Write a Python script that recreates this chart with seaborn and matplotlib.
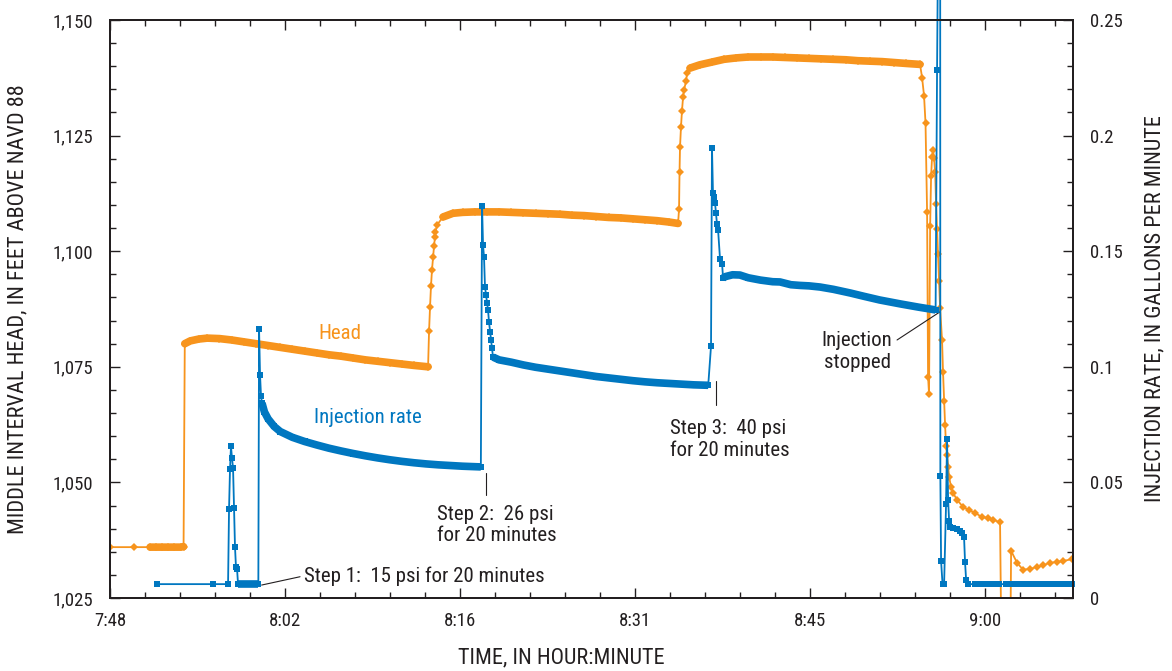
import numpy as np
import pandas as pd
import matplotlib
matplotlib.use("Agg")
import matplotlib.pyplot as plt
from matplotlib.ticker import FixedLocator, FuncFormatter, MultipleLocator
from matplotlib import font_manager
import seaborn as sns

# ---------------- data (time = minutes after midnight) ----------------
head_time = [
    468.0, 470.0, 471.3, 471.8, 472.3, 472.8, 473.3, 473.8, 474.05,
    474.15, 474.6, 475.3, 476.0, 477.0, 478.0, 479.0, 480.0, 481.0, 482.0, 483.0,
    484.0, 485.0, 486.0, 487.0, 488.0, 489.0, 490.0, 491.0, 492.0, 493.0, 494.16,
    494.24, 494.32, 494.40, 494.48, 494.57, 494.65, 494.73, 494.77, 494.90,
    495.39, 496.2, 497.0, 498.0, 499.0, 500.0, 501.0, 502.0, 503.0, 504.0, 505.0,
    506.0, 507.0, 508.0, 509.0, 510.0, 511.0, 512.0, 513.0, 514.0, 514.72,
    514.80, 514.84, 514.88, 514.96, 515.04, 515.13, 515.21, 515.38, 515.46, 515.71,
    516.5, 517.5, 518.5, 519.5, 520.5, 521.5, 522.5, 523.5, 524.5, 525.5, 526.5,
    527.5, 528.5, 529.5, 530.5, 531.5, 532.5, 533.5, 534.62,
    534.79, 534.95, 535.07, 535.20, 535.28, 535.36, 535.45, 535.53, 535.61, 535.69,
    535.77, 535.86, 535.94, 536.02, 536.10, 536.19, 536.27, 536.43, 536.51, 536.60,
    536.68, 536.76, 536.84, 536.93, 537.01, 537.17, 537.34, 537.67, 538.16, 538.65,
    539.15, 539.72, 540.22, 540.63, 541.20,
    541.33, 542.03,
    542.11, 542.60, 543.10, 543.67, 544.25, 544.74, 545.31, 545.89, 546.38, 547.12,
]
head_ft = [
    1036.0, 1036.0, 1036.0, 1036.0, 1036.0, 1036.0, 1036.0, 1036.0, 1036.1,
    1080.0, 1080.6, 1081.0, 1081.2, 1081.1, 1080.8, 1080.4, 1080.0, 1079.6, 1079.2, 1078.8,
    1078.4, 1078.0, 1077.6, 1077.3, 1076.9, 1076.5, 1076.2, 1075.9, 1075.6, 1075.3, 1075.0,
    1082.7, 1087.9, 1092.5, 1095.9, 1098.7, 1101.1, 1103.1, 1104.2, 1105.7,
    1107.4, 1108.2, 1108.4, 1108.5, 1108.5, 1108.5, 1108.4, 1108.3, 1108.2, 1108.1, 1108.0,
    1107.8, 1107.7, 1107.5, 1107.3, 1107.2, 1107.0, 1106.8, 1106.6, 1106.3, 1106.0,
    1109.1, 1117.1, 1122.5, 1126.9, 1130.3, 1133.3, 1134.9, 1136.8, 1138.5, 1139.6,
    1140.3, 1140.9, 1141.5, 1141.8, 1142.0, 1142.0, 1142.0, 1141.9, 1141.8, 1141.7, 1141.6,
    1141.5, 1141.4, 1141.2, 1141.1, 1141.0, 1140.8, 1140.6, 1140.4,
    1137.5, 1133.6, 1127.7, 1108.5, 1072.8, 1069.1, 1105.4, 1116.3, 1120.4, 1121.9,
    1120.2, 1117.1, 1110.2, 1104.8, 1099.4, 1093.6, 1087.7, 1080.8, 1073.9, 1067.6,
    1062.4, 1057.9, 1055.9, 1053.3, 1051.2, 1049.0, 1047.7, 1046.2, 1044.7, 1044.0,
    1043.4, 1042.5, 1042.3, 1041.9, 1041.4,
    1010.0, 1010.0,
    1035.2, 1032.6, 1031.1, 1031.3, 1031.7, 1032.1, 1032.6, 1032.8, 1033.0, 1033.4,
]

rate_time = [
    471.87, 476.47, 477.71, 477.79, 477.87, 477.95, 478.03, 478.12, 478.20, 478.28,
    478.36, 478.45, 478.53, 478.8, 479.1, 479.4, 479.7, 480.0, 480.2,
    480.26, 480.34, 480.42, 480.50, 480.7, 481.0, 481.5, 482.0, 483.0, 484.0, 485.0,
    486.0, 487.0, 488.0, 489.0, 490.0, 491.0, 492.0, 493.0, 494.0, 495.0, 496.0,
    497.0, 498.0, 498.5,
    498.60, 498.68, 498.76, 498.84, 498.93, 499.01, 499.09, 499.17, 499.26, 499.34,
    499.42, 499.50,
    500.0, 501.0, 502.0, 503.0, 504.0, 505.0, 506.0, 507.0, 508.0, 509.0, 510.0,
    511.0, 512.0, 513.0, 514.0, 515.0, 516.0, 517.2,
    517.43, 517.51, 517.59, 517.68, 517.76, 517.84, 517.92, 518.01, 518.17, 518.34, 518.42,
    518.6, 519.2, 519.8, 520.5, 521.5, 522.5, 523.1, 524.0, 524.75, 525.5,
    526.4, 527.5, 528.9, 530.0, 531.3, 533.0, 534.5, 535.9,
    536.02, 536.27, 536.29, 536.35, 536.47, 536.60, 536.76, 536.84, 536.93, 537.01,
    537.09, 537.34, 537.67, 537.91, 538.08, 538.24, 538.32, 538.41, 538.57,
    539.15, 539.65, 540.15, 540.65, 541.15, 541.65, 542.15, 542.65, 543.15, 543.65,
    544.15, 544.65, 545.15, 545.65, 546.15, 546.65, 547.15,
]
rate_gpm = [
    0.006, 0.006, 0.006, 0.0385, 0.0558, 0.0657, 0.0606, 0.0562, 0.0389, 0.0221,
    0.0134, 0.0125, 0.006, 0.006, 0.006, 0.006, 0.006, 0.006, 0.006,
    0.1163, 0.0965, 0.0874, 0.0843, 0.0805, 0.0775, 0.0742, 0.0720, 0.0695, 0.0677, 0.0662,
    0.0648, 0.0636, 0.0625, 0.0615, 0.0606, 0.0598, 0.0591, 0.0585, 0.0580, 0.0576, 0.0573,
    0.0570, 0.0568, 0.0567,
    0.1695, 0.1527, 0.1475, 0.1345, 0.1311, 0.1276, 0.1246, 0.1194, 0.1151, 0.1116,
    0.1081, 0.1042,
    0.1030, 0.1020, 0.1008, 0.0998, 0.0990, 0.0982, 0.0974, 0.0966, 0.0958, 0.0952, 0.0946,
    0.0940, 0.0935, 0.0931, 0.0928, 0.0925, 0.0922, 0.0920,
    0.1090, 0.1946, 0.1752, 0.1734, 0.1708, 0.1665, 0.1618, 0.1592, 0.1466, 0.1445, 0.1384,
    0.1390, 0.1398, 0.1397, 0.1385, 0.1375, 0.1368, 0.1367, 0.1355, 0.1352, 0.1350,
    0.1345, 0.1335, 0.1319, 0.1305, 0.1289, 0.1272, 0.1258, 0.1246,
    0.2284, 0.40, 0.0528, 0.0160, 0.006, 0.006, 0.0407, 0.0688, 0.0424, 0.0333,
    0.0307, 0.0303, 0.0298, 0.0290, 0.0281, 0.0264, 0.0156, 0.0078, 0.006,
    0.006, 0.006, 0.006, 0.006, 0.006, 0.006, 0.006, 0.006, 0.006, 0.006,
    0.006, 0.006, 0.006, 0.006, 0.006, 0.006, 0.006,
]

x_tick_day = [0.325, 0.335, 0.345, 0.355, 0.365, 0.375]
x_tick_labels = ["7:48", "8:02", "8:16", "8:31", "8:45", "9:00"]

# time windows where the logger recorded densely (drawn as a solid band)
head_bands = [(471.2, 474.1), (474.14, 494.2), (495.3, 514.75), (515.65, 534.65)]
rate_bands = [(478.5, 480.22), (480.45, 498.55), (499.45, 517.25), (518.4, 535.95)]

# ---------------- style ----------------
ORANGE = "#F7941D"
BLUE = "#0077C0"
TXT = "#231F20"

sns.set_theme(style="white")
names = {f.name for f in font_manager.fontManager.ttflist}
narrow = [n for n in ("Liberation Sans Narrow", "Arial Narrow", "Roboto Condensed",
                      "Open Sans Condensed", "DejaVu Sans Condensed") if n in names]
plt.rcParams["font.family"] = narrow + ["DejaVu Sans"]
plt.rcParams["font.stretch"] = "condensed"
plt.rcParams["text.color"] = TXT
plt.rcParams["axes.labelcolor"] = TXT
plt.rcParams["xtick.color"] = TXT
plt.rcParams["ytick.color"] = TXT

head = pd.DataFrame({"t": head_time, "ft": head_ft})
rate = pd.DataFrame({"t": rate_time, "q": rate_gpm})

fig = plt.figure(figsize=(11.72, 6.71), dpi=100)
ax = fig.add_axes([110 / 1172, 1 - 598 / 671, 963 / 1172, 578 / 671])
ax2 = ax.twinx()

# head series
sns.lineplot(data=head, x="t", y="ft", ax=ax, sort=False, estimator=None,
             color=ORANGE, lw=1.3, marker="D", markersize=4, markeredgewidth=0)
for a, b in head_bands:
    seg = head[(head.t >= a) & (head.t <= b)]
    sns.lineplot(data=seg, x="t", y="ft", ax=ax, sort=False, estimator=None,
                 color=ORANGE, lw=5.5, solid_capstyle="round")

# injection rate series
sns.lineplot(data=rate, x="t", y="q", ax=ax2, sort=False, estimator=None,
             color=BLUE, lw=1.3, marker="s", markersize=4.5, markeredgewidth=0,
             clip_on=False)
for a, b in rate_bands:
    seg = rate[(rate.t >= a) & (rate.t <= b)]
    sns.lineplot(data=seg, x="t", y="q", ax=ax2, sort=False, estimator=None,
                 color=BLUE, lw=5.5, solid_capstyle="butt")

# axes limits / ticks
xmin, xmax = 0.325 * 1440, 0.38 * 1440
ax.set_xlim(xmin, xmax)
ax.set_ylim(1025, 1150)
ax2.set_ylim(0, 0.25)

ax.xaxis.set_major_locator(FixedLocator([d * 1440 for d in x_tick_day]))
ax.set_xticklabels(x_tick_labels)
ax.xaxis.set_minor_locator(FixedLocator(np.arange(xmin, xmax + 0.01, 0.002 * 1440)))
ax.yaxis.set_major_locator(MultipleLocator(25))
ax.yaxis.set_minor_locator(MultipleLocator(5))
ax.yaxis.set_major_formatter(FuncFormatter(lambda v, p: f"{v:,.0f}"))
ax2.yaxis.set_major_locator(MultipleLocator(0.05))
ax2.yaxis.set_minor_locator(MultipleLocator(0.01))
ax2.yaxis.set_major_formatter(FuncFormatter(lambda v, p: f"{v:g}"))

ax.tick_params(axis="x", which="both", direction="in", top=True, bottom=True,
               labelsize=13.5, pad=10)
ax.tick_params(axis="y", which="both", direction="in", left=True, right=False,
               labelsize=13.5, pad=12)
ax2.tick_params(axis="y", which="both", direction="in", right=True, labelsize=13.5, pad=12)
for a_ in (ax, ax2):
    a_.tick_params(which="major", length=7, width=1.0)
    a_.tick_params(which="minor", length=4, width=1.0)
    for s in a_.spines.values():
        s.set_linewidth(1.4)
        s.set_color(TXT)
ax2.grid(False)
ax.grid(False)

ax.set_xlabel("TIME, IN HOUR:MINUTE", fontsize=16)
ax.xaxis.set_label_coords((561 - 110) / 963, -(658 - 598) / 578)
ax.xaxis.label.set_va("center")
ax.set_ylabel("MIDDLE INTERVAL HEAD, IN FEET ABOVE NAVD 88", fontsize=16)
ax.yaxis.set_label_coords(-(110 - 18) / 963, 0.5)
ax.yaxis.label.set_va("center")
ax2.set_ylabel("INJECTION RATE, IN GALLONS PER MINUTE", fontsize=16, rotation=90)
ax2.yaxis.set_label_coords(1 + (1155 - 1073) / 963, 0.5)
ax2.yaxis.label.set_va("center")

# annotations
fs = 15
ax.text(486.9, 1082.3, "Head", color=ORANGE, fontsize=fs, ha="center", va="center")
ax.text(489.2, 1064.1, "Injection rate", color=BLUE, fontsize=fs, ha="center", va="center")
ax.text(483.96, 1029.8, "Step 1:  15 psi for 20 minutes", fontsize=fs, ha="left", va="center")
ax.plot([480.47, 483.63], [1027.8, 1029.6], color=TXT, lw=0.8)
ax.text(494.9, 1040.8, "Step 2:  26 psi\nfor 20 minutes", fontsize=fs, ha="left",
        va="center", linespacing=1.15)
ax.plot([498.9, 498.9], [1052.0, 1047.3], color=TXT, lw=0.8)
ax.text(514.06, 1059.3, "Step 3:  40 psi\nfor 20 minutes", fontsize=fs, ha="left",
        va="center", linespacing=1.15)
ax.plot([517.84, 517.84], [1071.9, 1066.7], color=TXT, lw=0.8)
ax.text(529.44, 1078.3, "Injection\nstopped", fontsize=fs, ha="center", va="center",
        linespacing=1.15)
ax.plot([532.73, 536.27], [1080.8, 1086.9], color=TXT, lw=0.8)

fig.savefig("out.png", dpi=100)
